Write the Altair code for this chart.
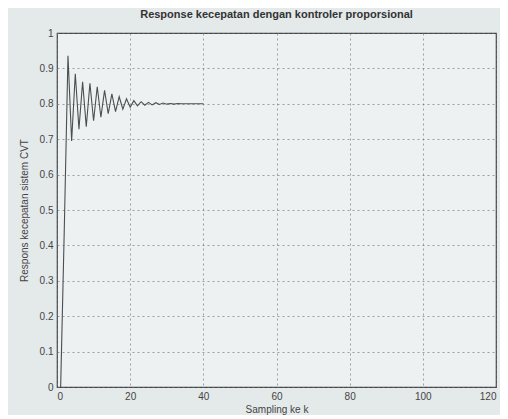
import altair as alt
import pandas as pd

k = list(range(1, 41))
respons = [0.0, 0.45, 0.936, 0.695, 0.885, 0.728, 0.862, 0.735, 0.858, 0.752,
           0.848, 0.762, 0.838, 0.772, 0.828, 0.778, 0.82, 0.785, 0.814, 0.79,
           0.809, 0.794, 0.806, 0.796, 0.804, 0.797, 0.803, 0.798, 0.802, 0.799,
           0.801, 0.799, 0.801, 0.8, 0.8, 0.8, 0.8, 0.8, 0.8, 0.8]

x_ticks = [0, 20, 40, 60, 80, 100, 120]
y_ticks = [0, 0.1, 0.2, 0.3, 0.4, 0.5, 0.6, 0.7, 0.8, 0.9, 1]

df = pd.DataFrame({"k": k, "y": respons})

chart = alt.Chart(df).mark_line(color="#4a4f52", strokeWidth=1.1).encode(
    x=alt.X("k:Q", scale=alt.Scale(domain=[0, 120], nice=False),
            axis=alt.Axis(values=x_ticks, title="Sampling ke k", format="d")),
    y=alt.Y("y:Q", scale=alt.Scale(domain=[0, 1], nice=False),
            axis=alt.Axis(values=y_ticks, title="Respons kecepatan sistem CVT", format="~g")),
).properties(
    width=439, height=354,
    title=alt.TitleParams("Responsе kecepatan dengan kontroler proporsional",
                          fontSize=11, fontWeight="bold", font="Liberation Sans",
                          color="#333", offset=8),
    autosize=alt.AutoSizeParams(type="none"),
    padding={"left": 49, "top": 25, "right": 4, "bottom": 28},
    background="#e4e9ea",
).configure_view(
    stroke="#444", strokeWidth=1.2, fill="#edf1f1"
).configure_axis(
    grid=True, gridColor="#6d7275", gridDash=[2, 3], gridWidth=0.8, gridOpacity=0.8,
    domain=False, ticks=False, labelFont="Liberation Sans", labelFontSize=10,
    labelColor="#444", titleFont="Liberation Sans", titleFontSize=10,
    titleFontWeight="normal", titleColor="#444", labelPadding=4,
).configure_axisY(titlePadding=10).configure_axisX(titlePadding=3)

chart.save("out.html", embed_options={"renderer": "svg", "actions": False})
